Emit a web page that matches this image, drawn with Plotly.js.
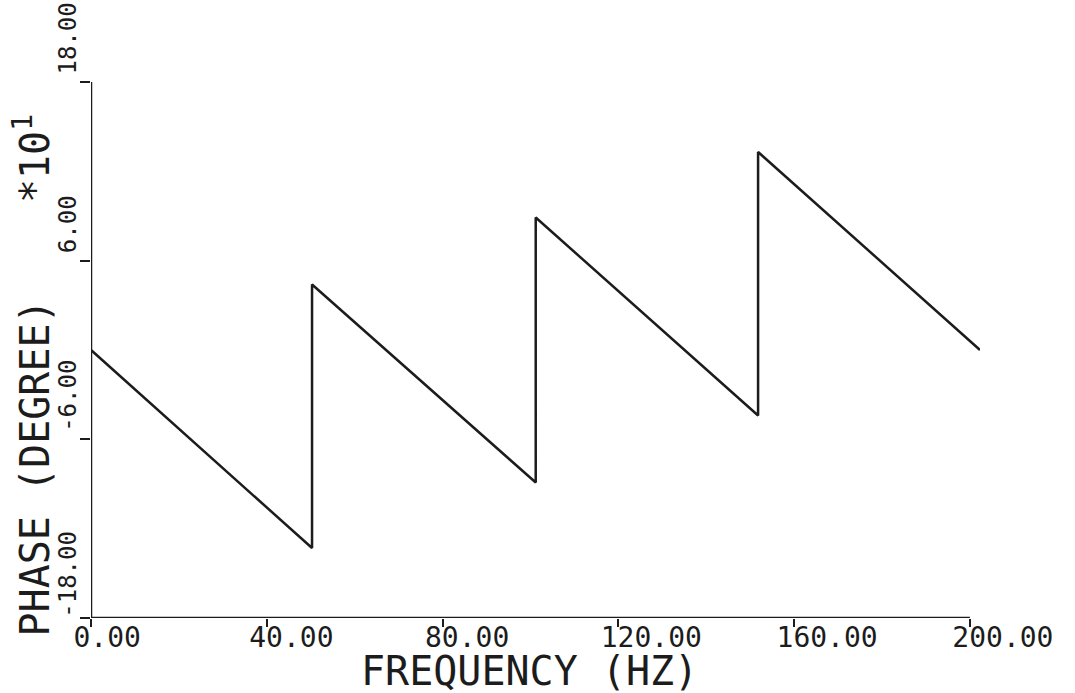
<!DOCTYPE html>
<html>
<head>
<meta charset="utf-8">
<script src="https://cdn.plot.ly/plotly-3.0.1.min.js"></script>
<style>html,body{margin:0;padding:0;background:#fff;}#chart{width:1075px;height:693px;}</style>
</head>
<body>
<div id="chart"></div>
<script>
// Frequency (Hz) and phase (degree x10^1)
var freq  = [0, 50.3, 50.3, 101.2, 101.2, 151.8, 151.8, 202.3];
var phase = [0.0, -13.3, 4.4, -8.9, 8.9, -4.4, 13.3, 0.0];

var xTickVals = [0, 40, 80, 120, 160, 200];
var xTickText = ["0.00", "40.00", "80.00", "120.00", "160.00", "200.00"];
var yTickVals = [-18, -6, 6, 18];
var yTickText = ["-18.00", "-6.00", "6.00", "18.00"];

var xTitle = "FREQUENCY (HZ)";
var yTitle = "PHASE (DEGREE)\u00a0\u00a0\u00a0\u00a0*10<sup>1</sup>";

function pad(arr, n) {
  return arr.map(function (s) {
    while (s.length < n) s = s + "\u00a0";
    return s;
  });
}

var ink = "#1c1c1c";
var mono = "DejaVu Sans Mono, Liberation Mono, monospace";
var xTickFont = {family: mono, size: 28, color: ink};
var yTickFont = {family: mono, size: 24, color: ink};
var titleFont = {family: mono, size: 40, color: ink};

var xRange = [0, 202.3];
var yRange = [-18, 18];

var trace = {
  x: freq, y: phase, type: "scatter", mode: "lines",
  line: {color: ink, width: 2.5}, hoverinfo: "skip", showlegend: false
};
// same data on the label axes, drawn invisibly so those axes render
var labelTrace = {
  x: freq, y: phase, type: "scatter", mode: "lines", xaxis: "x2", yaxis: "y2",
  line: {color: "rgba(0,0,0,0)", width: 0}, hoverinfo: "skip", showlegend: false
};

var layout = {
  width: 1075, height: 693,
  margin: {l: 91, r: 95, t: 82, b: 75},
  paper_bgcolor: "#fff", plot_bgcolor: "#fff",
  xaxis: {
    range: xRange, showgrid: false, zeroline: false, showline: false,
    tickmode: "array", tickvals: xTickVals, showticklabels: false,
    ticks: "outside", ticklen: 8, tickwidth: 2, tickcolor: ink, fixedrange: true
  },
  yaxis: {
    range: yRange, showgrid: false, zeroline: false, showline: false,
    tickmode: "array", tickvals: yTickVals, showticklabels: false,
    ticks: "outside", ticklen: 10, tickwidth: 2, tickcolor: ink, fixedrange: true
  },
  xaxis2: {
    overlaying: "x", anchor: "y2", side: "bottom",
    range: xRange, showgrid: false, zeroline: false, showline: false,
    tickmode: "array", tickvals: xTickVals, ticktext: pad(xTickText, 6),
    ticks: "", tickfont: xTickFont, ticklabelshift: 33,
    ticklabeloverflow: "allow", fixedrange: true
  },
  yaxis2: {
    overlaying: "y", anchor: "x2", side: "left",
    range: yRange, showgrid: false, zeroline: false, showline: false,
    tickmode: "array", tickvals: yTickVals, ticktext: pad(yTickText, 5),
    ticks: "", tickangle: -90, tickfont: yTickFont, ticklabelshift: -40,
    ticklabelstandoff: 9, ticklabeloverflow: "allow", fixedrange: true
  },
  shapes: [
    {type: "line", xref: "x", yref: "y",
     x0: xTickVals[0], x1: xTickVals[xTickVals.length - 1],
     y0: yTickVals[0], y1: yTickVals[0],
     line: {color: ink, width: 2.5}},
    {type: "line", xref: "x", yref: "y",
     x0: xTickVals[0], x1: xTickVals[0],
     y0: yTickVals[0], y1: yTickVals[yTickVals.length - 1],
     line: {color: ink, width: 2.5}}
  ],
  annotations: [
    {text: xTitle, xref: "paper", yref: "paper", x: 0.4927, y: -0.098,
     xanchor: "center", yanchor: "middle", showarrow: false, font: titleFont},
    {text: yTitle, xref: "paper", yref: "paper", x: -0.066, y: 0.453,
     xanchor: "center", yanchor: "middle", textangle: -90, showarrow: false, font: titleFont}
  ]
};

Plotly.newPlot("chart", [trace, labelTrace], layout, {displayModeBar: false, staticPlot: true});
</script>
</body>
</html>
